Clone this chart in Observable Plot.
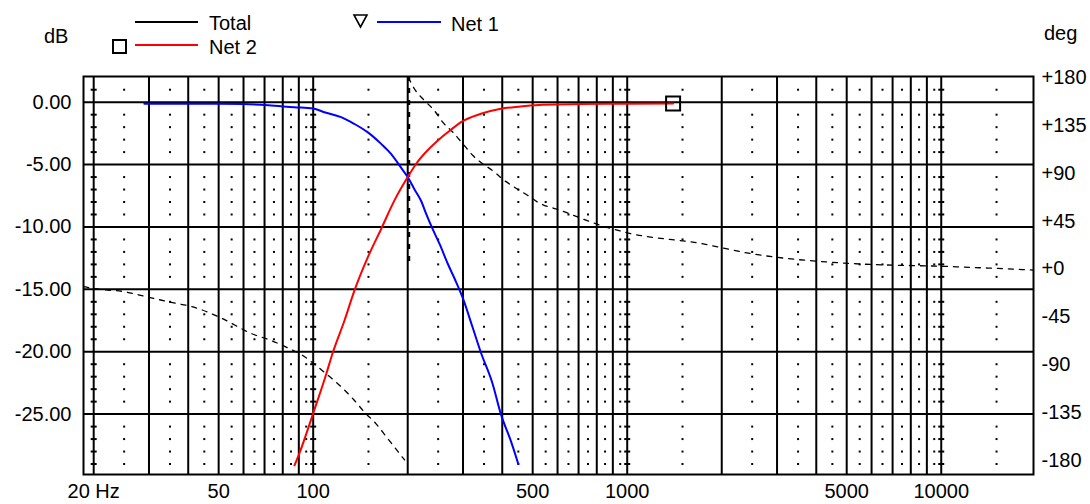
<!DOCTYPE html>
<html><head><meta charset="utf-8">
<script src="https://cdn.jsdelivr.net/npm/d3@7"></script>
<script src="https://cdn.jsdelivr.net/npm/@observablehq/plot@0.6"></script>
<style>
body{margin:0;background:#fff;}
#wrap{position:relative;width:1090px;height:504px;font-family:"Liberation Sans",Arial,sans-serif;}
#wrap svg{position:absolute;left:0;top:0;}
</style></head><body><div id="wrap"></div>
<script>
// ---- data ----
const net1Freq = [29, 40, 50, 60, 72, 87, 100, 108.6, 122.7, 135, 149, 164.6, 177, 190.5, 200, 209.8, 220.5, 229, 240, 252.6, 268.5, 282.4, 299, 322, 342, 373, 396, 426, 450];
const net1Db   = [-0.12, -0.12, -0.12, -0.15, -0.25, -0.4, -0.5, -0.8, -1.2, -1.73, -2.4, -3.34, -4.14, -5.25, -6.0, -6.95, -7.9, -8.95, -10.16, -11.36, -12.97, -14.17, -15.65, -18.06, -20.06, -22.6, -25.0, -27.15, -29.0];

const net2Freq = [87.2, 90.5, 99.8, 110, 115.5, 125.8, 135.3, 149.2, 164.6, 181.3, 200, 212.6, 233.5, 245, 258, 275, 295.5, 342, 396, 458, 537, 700, 1000, 1400];
const net2Db   = [-29.1, -28.1, -25.0, -21.8, -20.06, -17.5, -15.1, -12.44, -10.16, -7.89, -6.0, -4.95, -3.75, -3.25, -2.75, -2.2, -1.6, -0.93, -0.53, -0.35, -0.2, -0.15, -0.12, -0.1];

// Total phase (deg), two branches around the wrap near 200 Hz
const phaseLowFreq = [18.6, 20.5, 24.9, 29.3, 35.1, 41.7, 50.9, 63.5, 73.5, 83, 91.6, 102.2, 110, 118.4, 135.4, 145.7, 158.6, 170.7, 181.6, 195.4];
const phaseLowDeg  = [-16.5, -18.8, -21.2, -25.9, -31.2, -35.9, -46, -60.6, -67.2, -74.1, -80.4, -90.7, -98.5, -106.4, -123.6, -134.6, -145.5, -157.4, -167.5, -179.4];
const phaseHighFreq = [201, 210, 226, 243, 258.5, 278.5, 303, 322.6, 378, 406.5, 437.5, 482.5, 519, 615, 824, 992, 1713, 2465, 5140, 10700, 19670];
const phaseHighDeg  = [180, 169.4, 158.4, 149, 138, 128.6, 116, 106.7, 91, 83.2, 76.9, 69.1, 62.8, 55, 41, 34.3, 24, 14.6, 5.2, 2.3, -1];

const markerNet2 = [{f: 1400, db: -0.1}];
const cursorFreq = [200];

// grid / ticks
const majorFreqs = [20,30,40,50,60,70,80,90,100,200,300,400,500,600,700,800,900,1000,2000,3000,4000,5000,6000,7000,8000,9000,10000];
const minorFreqs = [25,35,45,55,65,75,85,95,150,250,350,450,550,650,750,850,950,1500,2500,3500,4500,5500,6500,7500,8500,9500,15000];
const dashFreqs = [20, 100, 1000, 10000];
const dbGrid = [0, -5, -10, -15, -20, -25];
const dbDots = [1,-1,-2,-3,-4,-6,-7,-8,-9,-11,-12,-13,-14,-16,-17,-18,-19,-21,-22,-23,-24,-26,-27,-28,-29];
const xTickValues = [20, 50, 100, 500, 1000, 5000, 10000];
const xTickLabels = ["20 Hz", "50", "100", "500", "1000", "5000", "10000"];
const phaseTicks = [180, 135, 90, 45, 0, -45, -90, -135, -180];
const phaseTickLabels = ["+180", "+135", "+90", "+45", "+0", "-45", "-90", "-135", "-180"];

// ---- layout: right (phase) axis aligned onto the dB axis ----
const phaseTopDb = 1.98, phaseBottomDb = -28.72;
const phaseToDb = p => phaseBottomDb + (p + 180) / 360 * (phaseTopDb - phaseBottomDb);

const net1 = net1Freq.map((f, i) => ({f, db: net1Db[i]}));
const net2 = net2Freq.map((f, i) => ({f, db: net2Db[i]}));
const phaseLow = phaseLowFreq.map((f, i) => ({f, y: phaseToDb(phaseLowDeg[i])}));
const phaseHigh = phaseHighFreq.map((f, i) => ({f, y: phaseToDb(phaseHighDeg[i])}));
const minorDots = minorFreqs.flatMap(f => dbDots.map(db => ({f, db})));
const lineDashes = dashFreqs.flatMap(f => dbDots.map(db => ({f, db})));

const hDash = {draw(ctx) { ctx.moveTo(-3, 0); ctx.lineTo(3, 0); }};
const sq = {draw(ctx) { ctx.rect(-1, -1, 2, 2); }};

const chart = Plot.plot({
  width: 1090, height: 504,
  marginTop: 76, marginBottom: 30, marginLeft: 83, marginRight: 57,
  x: {type: "log", domain: [18.56, 19670], axis: null},
  y: {domain: [-29.84, 2.06], axis: null},
  style: {fontFamily: "'Liberation Sans', Arial, sans-serif", fontSize: "20px", background: "white", color: "black", overflow: "visible"},
  marks: [
    Plot.ruleX(majorFreqs, {stroke: "black", strokeWidth: 2}),
    Plot.ruleY(dbGrid, {stroke: "black", strokeWidth: 2}),
    Plot.dot(minorDots, {x: "f", y: "db", symbol: sq, fill: "black", stroke: null}),
    Plot.dot(lineDashes, {x: "f", y: "db", symbol: hDash, fill: "none", stroke: "black", strokeWidth: 2}),
    Plot.ruleX(cursorFreq, {y1: 2.06, y2: -13, stroke: "black", strokeWidth: 3, strokeDasharray: "5,7", dx: 1}),
    Plot.line(phaseLow, {x: "f", y: "y", stroke: "black", strokeWidth: 1.3, strokeDasharray: "5,6", curve: "monotone-x", clip: true}),
    Plot.line(phaseHigh, {x: "f", y: "y", stroke: "black", strokeWidth: 1.3, strokeDasharray: "5,6", curve: "monotone-x", clip: true}),
    Plot.line(net1, {x: "f", y: "db", stroke: "#0000ff", strokeWidth: 2, curve: "monotone-x", clip: true}),
    Plot.line(net2, {x: "f", y: "db", stroke: "#ff0000", strokeWidth: 2, curve: "monotone-x", clip: true}),
    Plot.dot(markerNet2, {x: "f", y: "db", symbol: "square", r: 7.9, fill: "none", stroke: "black", strokeWidth: 2}),
    Plot.frame({stroke: "black", strokeWidth: 2}),
    Plot.text(dbGrid, {y: d => d, text: d => d.toFixed(2), frameAnchor: "left", textAnchor: "end", dx: -12, fontSize: 20, fill: "black"}),
    Plot.text(xTickValues, {x: d => d, text: (d, i) => xTickLabels[i], frameAnchor: "bottom", lineAnchor: "top", dy: 9, fontSize: 20, fill: "black"}),
    Plot.text(phaseTicks, {y: d => phaseToDb(d), text: (d, i) => phaseTickLabels[i], frameAnchor: "right", textAnchor: "start", dx: 8, fontSize: 20, fill: "black"})
  ]
});
const wrap = document.getElementById("wrap");
wrap.appendChild(chart);

const ns = "http://www.w3.org/2000/svg";
const leg = document.createElementNS(ns, "svg");
leg.setAttribute("width", 1090); leg.setAttribute("height", 70);
leg.innerHTML = `
 <g font-family="'Liberation Sans', Arial, sans-serif" font-size="20" fill="black">
  <line x1="135" x2="198" y1="22" y2="22" stroke="black" stroke-width="2"/>
  <text x="209" y="30">Total</text>
  <rect x="113" y="40" width="13" height="13" fill="none" stroke="black" stroke-width="2"/>
  <line x1="135" x2="198" y1="45" y2="45" stroke="#ff0000" stroke-width="2"/>
  <text x="209" y="54">Net 2</text>
  <path d="M354,15 L367,15 L360.5,27 Z" fill="none" stroke="black" stroke-width="1.6"/>
  <line x1="377" x2="441" y1="22" y2="22" stroke="#0000ff" stroke-width="2"/>
  <text x="451" y="31">Net 1</text>
  <text x="44" y="43">dB</text>
  <text x="1044" y="40">deg</text>
 </g>`;
wrap.appendChild(leg);
</script></body></html>
